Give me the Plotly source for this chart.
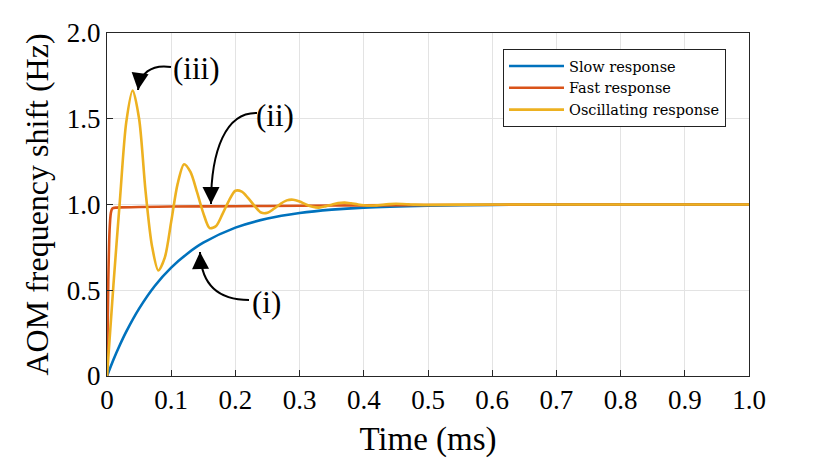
import plotly.graph_objects as go

# ---------------- data ----------------
t_slow = [0, 0.01, 0.02, 0.03, 0.05, 0.075, 0.1, 0.125, 0.15, 0.2, 0.25, 0.3,
          0.35, 0.4, 0.5, 0.6, 0.7, 0.8, 0.9, 1.0]
y_slow = [0, 0.095, 0.181, 0.259, 0.393, 0.528, 0.632, 0.713, 0.777, 0.865,
          0.918, 0.950, 0.970, 0.982, 0.993, 0.998, 0.999, 1.0, 1.0, 1.0]

t_fast = [0, 0.002, 0.004, 0.006, 0.008, 0.01, 0.015, 0.02, 0.05, 0.1, 0.2,
          0.3, 0.4, 0.5, 0.7, 1.0]
y_fast = [0, 0.55, 0.85, 0.95, 0.975, 0.98, 0.982, 0.983, 0.985, 0.988, 0.99,
          0.993, 0.995, 0.997, 1.0, 1.0]

t_osc = [0, 0.01, 0.02, 0.03, 0.04, 0.05, 0.06, 0.07, 0.08, 0.09, 0.10, 0.11,
         0.12, 0.13, 0.14, 0.15, 0.16, 0.17, 0.18, 0.19, 0.20, 0.21, 0.22,
         0.23, 0.24, 0.25, 0.26, 0.27, 0.28, 0.29, 0.30, 0.31, 0.32, 0.33,
         0.34, 0.35, 0.36, 0.37, 0.38, 0.39, 0.40, 0.41, 0.42, 0.43, 0.44,
         0.45, 0.46, 0.47, 0.48, 0.50, 0.6, 0.7, 0.8, 0.9, 1.0]
y_osc = [0, 0.53, 1.02, 1.48, 1.665, 1.50, 1.08, 0.76, 0.615, 0.69, 0.90, 1.12,
         1.235, 1.19, 1.075, 0.95, 0.862, 0.875, 0.945, 1.023, 1.08, 1.075,
         1.037, 0.991, 0.953, 0.952, 0.975, 1.003, 1.024, 1.028, 1.017, 1.0,
         0.987, 0.982, 0.989, 0.999, 1.008, 1.011, 1.007, 1.001, 0.996, 0.994,
         0.995, 0.999, 1.002, 1.004, 1.003, 1.001, 0.999, 0.998, 1.0, 1.0,
         1.0, 1.0, 1.0]

names = ["Slow response", "Fast response", "Oscillating response"]
colors = ["#0072BD", "#D95319", "#EDB120"]

x_ticks = [0, 0.1, 0.2, 0.3, 0.4, 0.5, 0.6, 0.7, 0.8, 0.9, 1.0]
x_ticktext = ["0", "0.1", "0.2", "0.3", "0.4", "0.5", "0.6", "0.7", "0.8", "0.9", "1.0"]
y_ticks = [0, 0.5, 1.0, 1.5, 2.0]
y_ticktext = ["0", "0.5", "1.0", "1.5", "2.0"]

# ---------------- figure ----------------
W, H = 828, 467
L, R, T, B = 107, 79, 33, 91
PW, PH = W - L - R, H - T - B


def px2d(px, py):
    """convert pixel position to data coordinates (for annotations only)"""
    return (px - L) / PW * 1.0, (H - B - py) / PH * 2.0


fig = go.Figure()
for tt, yy, nm, c in zip([t_slow, t_fast, t_osc], [y_slow, y_fast, y_osc], names, colors):
    fig.add_trace(go.Scatter(x=tt, y=yy, mode="lines", name=nm,
                             line=dict(color=c, width=2.6, shape="spline", smoothing=0.8)))

serif = "Liberation Serif, Times New Roman, serif"

# curved arrows: cubic paths (pixel -> data)
arrows = [
    ("(iii)", (196, 68), [(171, 67), (150, 64), (140, 74), (138, 90)]),
    ("(ii)", (275, 115), [(257, 113), (226, 112), (211, 150), (211, 204)]),
    ("(i)", (266, 302), [(249, 300), (217, 300), (201, 283), (200, 252)]),
]
for label, (lx, ly), pts in arrows:
    d = [px2d(*p) for p in pts]
    path = "M {} {} C {} {}, {} {}, {} {}".format(
        d[0][0], d[0][1], d[1][0], d[1][1], d[2][0], d[2][1], d[3][0], d[3][1])
    fig.add_shape(type="path", path=path, xref="x", yref="y",
                  line=dict(color="black", width=2))
    tx, ty = px2d(lx, ly)
    fig.add_annotation(x=tx, y=ty, xref="x", yref="y", text=label, showarrow=False,
                       font=dict(family=serif, size=31, color="black"))
    ex, ey = pts[3]
    cx, cy = pts[2]
    hx, hy = px2d(ex, ey)
    vx, vy = ex - cx, ey - cy
    n = (vx ** 2 + vy ** 2) ** 0.5
    fig.add_annotation(x=hx, y=hy, xref="x", yref="y", text="", showarrow=True,
                       arrowhead=2, arrowsize=1.7, arrowwidth=2, arrowcolor="black",
                       ax=-vx / n * 14, ay=-vy / n * 14, standoff=0)

fig.update_layout(
    width=W, height=H,
    margin=dict(l=L, r=R, t=T, b=B),
    paper_bgcolor="white", plot_bgcolor="white",
    font=dict(family=serif, color="black"),
    showlegend=True,
    legend=dict(x=(503 - L) / PW, y=(H - B - 49) / PH, xanchor="left", yanchor="top",
                bgcolor="white", bordercolor="#222222", borderwidth=1,
                font=dict(family="DejaVu Serif, serif", size=14.5, color="black"),
                itemwidth=55, tracegroupgap=0),
)
fig.update_xaxes(range=[0, 1.0], tickvals=x_ticks, ticktext=x_ticktext,
                 showgrid=True, gridcolor="#e3e3e3", gridwidth=1,
                 showline=True, linecolor="#262626", linewidth=1, mirror=True,
                 ticks="inside", ticklen=6, tickcolor="#262626",
                 tickfont=dict(family=serif, size=27, color="black"),
                 zeroline=False,
                 title=dict(text="Time (ms)", font=dict(family=serif, size=33, color="black"),
                            standoff=12))
fig.update_yaxes(range=[0, 2.0], tickvals=y_ticks, ticktext=y_ticktext,
                 showgrid=True, gridcolor="#e3e3e3", gridwidth=1,
                 showline=True, linecolor="#262626", linewidth=1, mirror=True,
                 ticks="inside", ticklen=6, tickcolor="#262626",
                 tickfont=dict(family=serif, size=27, color="black"),
                 zeroline=False,
                 title=dict(text="AOM frequency shift (Hz)",
                            font=dict(family=serif, size=32, color="black"),
                            standoff=8))

fig.write_html("out.html")
